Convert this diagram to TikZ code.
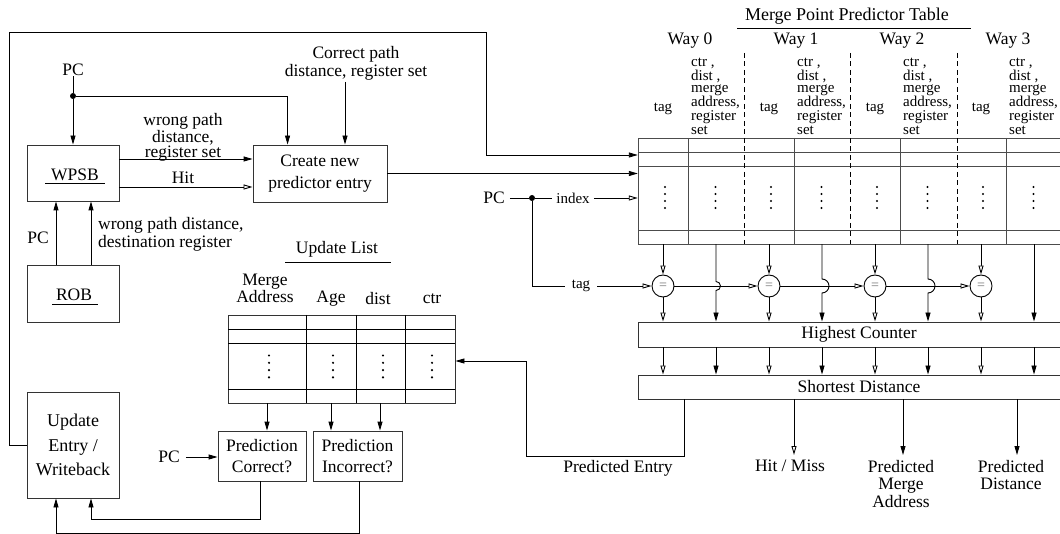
\documentclass[tikz,border=0pt]{standalone}
\usepackage{fontspec}
\setmainfont{Liberation Serif}
\usetikzlibrary{arrows.meta,calc}
\tikzset{
  ln/.style={line width=0.9pt, draw=black},
  fa/.style={ln, -{Triangle[length=9pt,width=5pt]}},
  oa/.style={ln, -{Triangle[open,length=9pt,width=5pt,fill=white]}},
  box/.style={line width=0.9pt, draw=black!80, inner sep=0pt, align=center, font=\fontsize{17.5}{22}\selectfont},
  lbl/.style={inner sep=0pt, align=center, font=\fontsize{17.5}{17.5}\selectfont},
  sml/.style={inner sep=0pt, align=center, font=\fontsize{15}{14}\selectfont},
  tln/.style={line width=0.9pt, draw=black!70},
  dsh/.style={line width=0.9pt, draw=black, dash pattern=on 5pt off 3.5pt},
  cmp/.style={circle, line width=0.9pt, draw=black, minimum size=22pt, inner sep=0pt, font=\fontsize{14}{14}\selectfont\color{black!55}},
  jdot/.style={circle, fill=black, inner sep=0pt, minimum size=6pt},
}
\begin{document}
\begin{tikzpicture}[x=1pt,y=-1pt]
\useasboundingbox (0,0) rectangle (1060,534);
\clip (0,0) rectangle (1060,534);

% ---------------- left part ----------------
\node[box, minimum width=92pt, minimum height=56pt] (wpsb) at (73,173) {};
\node[lbl] (wpsbt) at (75,175) {WPSB};
\draw[ln] (45,183) -- (105,183);
\node[box, minimum width=134pt, minimum height=57pt] (create) at (320,173.5) {Create new\\predictor entry};
\node[box, minimum width=92pt, minimum height=57pt] (rob) at (73,293.5) {};
\node[lbl] (robt) at (74,295) {ROB};
\draw[ln] (52,304) -- (98,304);
\node[box, minimum width=92pt, minimum height=106pt, font=\fontsize{18}{24.5}\selectfont] (upd) at (73,445) {Update\\Entry /\\Writeback};
\node[box, minimum width=88pt, minimum height=50pt, font=\fontsize{17.5}{21}\selectfont] (pcor) at (262,456) {Prediction\\Correct?};
\node[box, minimum width=89pt, minimum height=50pt, font=\fontsize{17.5}{21}\selectfont] (pinc) at (357.5,456) {Prediction\\Incorrect?};

\node[lbl] (pc1) at (73,70) {PC};
\node[jdot] (j1) at (73,96) {};
\draw[ln] (pc1.south) -- (j1);
\draw[fa] (j1) -- (wpsb.north);
\draw[fa] (j1) -| ([xshift=35pt]create.north west);

\node[lbl] (cp) at (356,63.5) {Correct path\\distance, register set};
\draw[fa] (345,82) -- (create.north -| 345,0);

\node[lbl, font=\fontsize{17.5}{14}\selectfont] (wp) at (183,137) {wrong path\\distance,\\register set};
\draw[fa] (wpsb.east |- 0,159) -- (create.west |- 0,159);
\node[lbl] (hit) at (183,178) {Hit};
\draw[oa] (wpsb.east |- 0,187) -- (create.west |- 0,187);

\draw[fa] (rob.north -| 56,0) -- (wpsb.south -| 56,0);
\draw[fa] (rob.north -| 91,0) -- (wpsb.south -| 91,0);
\node[lbl] (pc2) at (38,238) {PC};
\node[lbl, anchor=west, align=left, font=\fontsize{17.5}{18}\selectfont] (wpd) at (98,234) {wrong path distance,\\destination register};

% update list
\node[lbl] (ultitle) at (337,249) {Update List};
\draw[ln] (285,262) -- (391,262);
\node[lbl] (hma) at (265,288.5) {Merge\\Address};
\node[lbl] (hage) at (331,299) {Age};
\node[lbl] (hdist) at (378,299) {dist};
\node[lbl] (hctr) at (432,299) {ctr};
\node[box, minimum width=227pt, minimum height=88pt] (utab) at (341.5,359) {};
\foreach \yy in {329,343,389} \draw[ln] (228,\yy) -- (455,\yy);
\foreach \xx in {306,356,405} \draw[ln] (\xx,315) -- (\xx,403);
\foreach \xx in {269,333,383,432}
  \foreach \yy in {355.5,362.8,370.1,377.4}
    \fill (\xx,\yy) circle (1.2);

\draw[fa] (utab.south -| 267,0) -- (pcor.north -| 267,0);
\draw[fa] (utab.south -| 331,0) -- (pinc.north -| 331,0);
\draw[fa] (utab.south -| 380,0) -- (pinc.north -| 380,0);

\node[lbl, inner sep=6pt] (pc3) at (169,457) {PC};
\draw[fa] (pc3) -- (pcor.west |- pc3);

\draw[fa] (pcor.south -| 260,0) -- ++(0,38) -| (upd.south -| 91,0);
\draw[fa] (pinc.south -| 359,0) -- ++(0,52) -| (upd.south -| 56,0);

% ---------------- right part ----------------
\node[draw=none, minimum width=424pt, minimum height=106pt, inner sep=0pt] (mt) at (850,191) {};
\draw[tln] (638,138) rectangle (1062,244);
\foreach \yy in {152,166,230} \draw[tln] (638,\yy) -- (1062,\yy);
\foreach \xx in {688,794,900,1006} \draw[tln] (\xx,138) -- (\xx,244);
\foreach \xx in {744,850.5,957} \draw[dsh] (\xx,53) -- (\xx,244);
\foreach \k in {0,1,2,3}{
  \pgfmathsetmacro{\tx}{665+106*\k}
  \pgfmathsetmacro{\dx}{715.5+106*\k}
  \foreach \yy in {187,194,201,208}{
    \fill (\tx,\yy) circle (1.2);
    \fill (\dx,\yy) circle (1.2);
  }
  \node[lbl] (way\k) at ({690+106*\k},41) {Way \k};
  \node[sml] (tagh\k) at ({663+106*\k},109) {tag};
  \node[sml, anchor=west, align=left] (dath\k) at ({691+106*\k},96.5) {ctr ,\\dist ,\\[-2pt]merge\\address,\\register\\set};
}
\node[lbl, font=\fontsize{18}{18}\selectfont] (title) at (847,16) {Merge Point Predictor Table};
\draw[ln] (737,28) -- (971,28);

% inputs to table
\draw[fa] (upd.west) -- (9.5,445) |- (486,32) |- (mt.west |- 0,155);
\draw[fa] (create.east) -- (mt.west |- create.east);
\node[lbl, inner sep=5pt] (pc4) at (494,198) {PC};
\node[jdot] (j2) at (532,198) {};
\node[sml, inner sep=4pt] (idx) at (573,198) {index};
\draw[ln] (pc4) -- (j2) -- (idx);
\draw[oa] (idx) -- (mt.west |- idx);

% comparators
\foreach \k in {0,1,2,3}
  \node[cmp] (c\k) at ({663+106*\k},286) {=};
\node[sml, inner sep=7pt] (tg) at (581,286) {tag};
\draw[ln] (j2) |- (tg);
\draw[oa] (tg) -- (c0);
\draw[oa] (c0) -- (c1);
\draw[oa] (c1) -- (c2);
\draw[oa] (c2) -- (c3);

\node[box, minimum width=442pt, minimum height=25pt] (hc) at (859,334.5) {Highest Counter};
\node[box, minimum width=442pt, minimum height=24pt] (sd) at (859,387) {Shortest Distance};

\foreach \k in {0,1,2,3}{
  \draw[oa] (mt.south -| c\k) -- (c\k.north);
  \draw[oa] (c\k.south) -- (hc.north -| c\k);
  \draw[oa] (hc.south -| c\k) -- (sd.north -| c\k);
  \coordinate (d\k) at ({716+106*\k},286);
  \draw[fa] (hc.south -| d\k) -- (sd.north -| d\k);
}
\draw[fa] (mt.south -| d0) -- ($(d0)+(0,-4.5)$) arc[start angle=-90,end angle=90,radius=4.5] -- (hc.north -| d0);
\draw[fa] (mt.south -| d1) -- ($(d1)+(0,-7)$) arc[start angle=-90,end angle=90,radius=7] -- (hc.north -| d1);
\draw[fa] (mt.south -| d2) -- ($(d2)+(0,-7)$) arc[start angle=-90,end angle=90,radius=7] -- (hc.north -| d2);
\draw[fa] (mt.south -| d3) -- (hc.north -| d3);

% outputs
\node[lbl, anchor=north] (pe) at (618,460) {Predicted Entry};
\node[lbl, anchor=north] (hm) at (790,460) {Hit / Miss};
\node[lbl, anchor=north] (pma) at (901,460) {Predicted\\Merge\\Address};
\node[lbl, anchor=north] (pd) at (1011,460) {Predicted\\Distance};
\draw[fa] (sd.south -| 684,0) -- (684,456) -| (526,361) -- (utab.east |- 0,361);
\draw[oa] (sd.south -| 794,0) -- ([yshift=5pt]hm.north -| 794,0);
\draw[fa] (sd.south -| 903,0) -- ([yshift=5pt]pma.north -| 903,0);
\draw[fa] (sd.south -| 1017,0) -- ([yshift=5pt]pd.north -| 1017,0);
\end{tikzpicture}
\end{document}
